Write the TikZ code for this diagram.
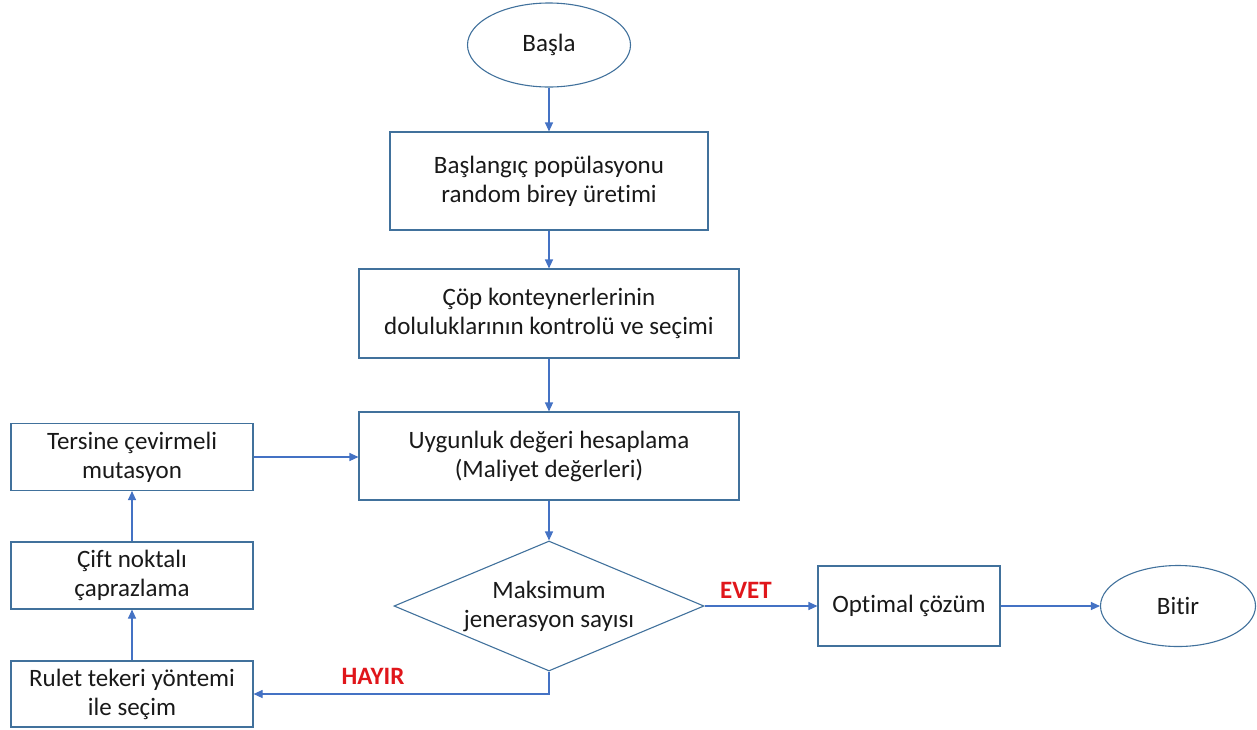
\documentclass[tikz,border=0pt]{standalone}
\usepackage{fontspec}
\setmainfont{Carlito}[Ligatures=NoCommon]
\usetikzlibrary{shapes.geometric,arrows.meta}
\definecolor{shapeblue}{HTML}{41719C}
\definecolor{arrowblue}{HTML}{4472C4}
\definecolor{labelred}{HTML}{E0161B}

\begin{document}
\begin{tikzpicture}[
    x=1pt, y=-1pt,
    every node/.style={font=\fontsize{25}{29}\selectfont, text=black!90},
    block/.style={rectangle, draw=shapeblue, line width=1.1pt, align=center, inner sep=0pt},
    terminal/.style={ellipse, draw=shapeblue, line width=1.1pt, inner sep=0pt},
    decision/.style={diamond, draw=shapeblue, line width=1.1pt, inner sep=0pt},
    answer/.style={font=\fontsize{25}{29}\selectfont\bfseries, text=labelred},
    arrow/.style={-{Triangle[length=9pt,width=8pt]}, draw=arrowblue, line width=1.1pt}
]
\useasboundingbox (0,0) rectangle (1257,729);

% Main flow
\node[terminal, minimum width=163, minimum height=84] (start) at (549,45) {Başla};
\node[block, minimum width=318, minimum height=98] (init) at (549,181) {Başlangıç popülasyonu\\random birey üretimi};
\node[block, minimum width=380, minimum height=89] (check) at (549,313.5) {Çöp konteynerlerinin\\doluluklarının kontrolü ve seçimi};
\node[block, minimum width=380, minimum height=88] (fitness) at (549,456) {Uygunluk değeri hesaplama\\(Maliyet değerleri)};
\node[decision, minimum width=310, minimum height=130,
      label={[align=center]center:Maksimum\\jenerasyon sayısı}] (maxgen) at (549,606) {};
\node[block, minimum width=182, minimum height=80] (optimal) at (909,606) {Optimal çözüm};
\node[terminal, minimum width=155, minimum height=81] (finish) at (1178,606) {Bitir};

% Loop
\node[block, minimum width=242, minimum height=67] (mutation) at (132,457) {Tersine çevirmeli\\mutasyon};
\node[block, minimum width=242, minimum height=67] (crossover) at (132,575.5) {Çift noktalı\\çaprazlama};
\node[block, minimum width=242, minimum height=66] (selection) at (132,694) {Rulet tekeri yöntemi\\ile seçim};

% Labels
\node[answer] (yes) at (746,590) {EVET};
\node[answer] (no) at (373,676) {HAYIR};

% Connections
\draw[arrow] (start) -- (init);
\draw[arrow] (init) -- (check);
\draw[arrow] (check) -- (fitness);
\draw[arrow] (fitness) -- (maxgen);
\draw[arrow] (maxgen) -- (optimal);
\draw[arrow] (optimal) -- (finish);
\draw[arrow] (maxgen.south) |- (selection.east);
\draw[arrow] (selection) -- (crossover);
\draw[arrow] (crossover) -- (mutation);
\draw[arrow] (mutation.east) -- (mutation.east -| fitness.west);

\end{tikzpicture}
\end{document}
